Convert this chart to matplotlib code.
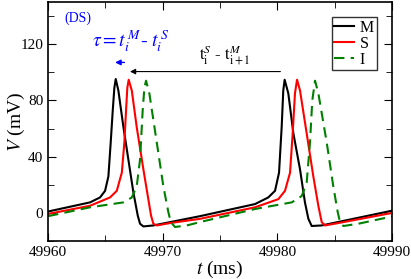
import matplotlib.pyplot as plt
from matplotlib.ticker import MultipleLocator

plt.rcParams['font.family'] = ['Liberation Serif', 'DejaVu Serif']
plt.rcParams['mathtext.fontset'] = 'stix'

# points (t in ms, V in mV)
t_M = [49960, 49963.66, 49964.53, 49964.97, 49965.26, 49965.46, 49965.64, 49965.78, 49965.9,
       49966.13, 49966.57, 49967.0, 49967.44, 49967.82, 49968.02, 49968.31, 49969.18,
       49973.25, 49978.05, 49979.2, 49979.79, 49980.14, 49980.37, 49980.51, 49980.63,
       49980.95, 49981.39, 49981.97, 49982.4, 49982.7, 49982.99, 49983.86, 49990]
V_M = [1, 7.5, 11, 15.7, 26, 50, 73, 89, 95.2,
       87, 61, 38, 14.5, -1.9, -7.7, -9.6, -8.9,
       -2.3, 6.3, 11, 15.7, 28.6, 61, 87, 94.7,
       85, 56.6, 31, 7.5, -4.2, -9.3, -8.9, 1.6]

t_S = [49960, 49963.66, 49965.4, 49965.99, 49966.43, 49966.65, 49966.8, 49966.91, 49967.03,
       49967.3, 49967.73, 49968.31, 49968.74, 49968.98, 49969.18, 49969.48, 49970.64,
       49973.25, 49978.05, 49980.08, 49980.66, 49981.1, 49981.33, 49981.53, 49981.71,
       49981.97, 49982.55, 49983.13, 49983.57, 49983.86, 49984.15, 49985.31, 49990]
V_S = [-0.7, 5.1, 11, 15.7, 28.6, 50, 73, 89, 94.7,
       87, 61, 31, 9.8, -1.9, -7.7, -8.9, -7.2,
       -4.2, 4, 9.8, 15.7, 28.6, 56.6, 85, 94.7,
       87, 56.6, 26, 5, -6.5, -8.9, -7.2, 0]

t_I = [49960, 49963.66, 49966.57, 49967.3, 49967.73, 49968.02, 49968.25, 49968.4, 49968.54,
       49968.83, 49969.48, 49970.05, 49970.49, 49970.7, 49971.07, 49972.1,
       49973.25, 49978.05, 49981.25, 49982.12, 49982.55, 49982.84, 49983.04, 49983.28,
       49983.57, 49984.3, 49984.87, 49985.26, 49985.46, 49985.75, 49987.05, 49990]
V_I = [-2.3, 4, 7.5, 11, 19, 38, 73, 89, 94,
       85, 50, 19, 0.5, -6.5, -10, -8.9,
       -6.5, 2.8, 7.5, 12, 21.5, 50, 80, 94,
       85, 50, 19, 0.5, -6.5, -9.3, -7.7, -2.5]

fig = plt.figure(figsize=(4.11, 2.79), dpi=100)
ax = fig.add_axes([0.117, 0.136, 0.837, 0.857])

ax.plot(t_M, V_M, color='black', lw=1.5, label='M')
ax.plot(t_S, V_S, color='red', lw=1.5, label='S')
ax.plot(t_I, V_I, color='green', lw=1.5, ls=(0, (5, 3)), label='I')

ax.set_xlim(49960, 49990)
ax.set_ylim(-20, 150)
ax.xaxis.set_major_locator(MultipleLocator(10))
ax.xaxis.set_minor_locator(MultipleLocator(5))
ax.yaxis.set_major_locator(MultipleLocator(40))
ax.yaxis.set_minor_locator(MultipleLocator(20))
ax.tick_params(which='both', direction='in', top=True, right=True, labelsize=11)
ax.tick_params(which='major', length=6)
ax.tick_params(which='minor', length=4)
for s in ax.spines.values():
    s.set_linewidth(1.2)

ax.set_xlabel(r'$t$ (ms)', fontsize=14, labelpad=0)
ax.set_ylabel(r'$V$ (mV)', fontsize=14)
ax.yaxis.set_label_coords(-0.062, 0.5)

ax.text(49961.4, 136, '(DS)', color='blue', fontsize=10)
ax.text(49963.8, 118, r'$\tau = t_i^{\,M}$- $t_i^{\,S}$', color='blue', fontsize=14)
ax.annotate('', xy=(49965.6, 107), xytext=(49966.9, 107),
            arrowprops=dict(arrowstyle='-|>', color='blue', lw=1, mutation_scale=8))
ax.annotate('', xy=(49966.9, 100.5), xytext=(49980.5, 100.5),
            arrowprops=dict(arrowstyle='-|>', color='black', lw=0.8, mutation_scale=8))
ax.text(49973.2, 109, r'$\mathrm{t}_{\mathrm{i}}^{S}$ - $\mathrm{t}_{\mathrm{i+1}}^{M}$', color='black', fontsize=12)

leg = ax.legend(loc='upper right', bbox_to_anchor=(0.955, 0.935), fontsize=11.5, handlelength=1.2,
                handletextpad=0.4, borderpad=0.15, labelspacing=0.0, frameon=True, fancybox=False,
                borderaxespad=0)
leg.get_frame().set_edgecolor('black')
leg.get_frame().set_linewidth(1.0)

fig.savefig('out.png', dpi=100)
